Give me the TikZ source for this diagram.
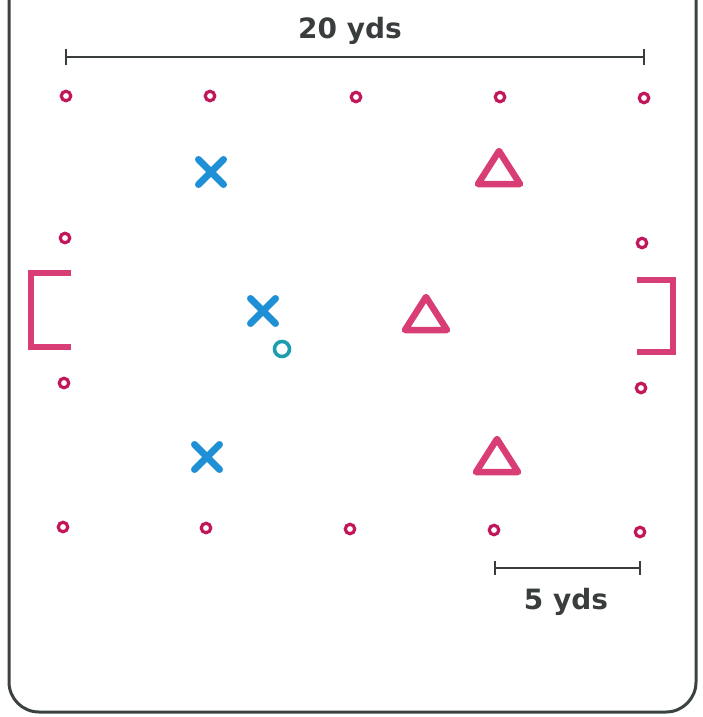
\documentclass[tikz,border=0pt]{standalone}
\usepackage{fontspec}
\setmainfont{DejaVu Sans}
\usetikzlibrary{calc}
\begin{document}
\begin{tikzpicture}[x=1pt,y=-1pt,
  cone/.style={circle,draw=conecol,fill=white,line width=3.2pt,minimum size=9.5pt,inner sep=0pt},
  xmark/.style={line width=7pt,line cap=round,draw=xcol},
  tri/.style={line width=6.5pt,line join=round,draw=tricol},
  goal/.style={line width=6pt,line join=miter,draw=tricol},
  bar/.style={line width=2.2pt,draw=barcol},
  lbl/.style={font=\fontsize{28}{32}\selectfont\bfseries,text=barcol,inner sep=0pt,anchor=base}]
\definecolor{conecol}{HTML}{C2185B}
\definecolor{tricol}{HTML}{D93D76}
\definecolor{xcol}{HTML}{1F8FD6}
\definecolor{ballcol}{HTML}{1E9DB0}
\definecolor{barcol}{HTML}{3A3D3E}
\definecolor{bordcol}{HTML}{3C4242}
\useasboundingbox (0,0) rectangle (702,717);
% border (open at top)
\draw[line width=3pt,draw=bordcol] (9,0) -- (9,682) arc[start angle=180,end angle=90,radius=30] -- (666,712) arc[start angle=90,end angle=0,radius=30] -- (696,0);
% scale bars
\coordinate (tl) at (66,57); \coordinate (tr) at (644,57);
\draw[bar] (tl) -- (tr);
\draw[bar] ($(tl)+(0,-8)$) -- ($(tl)+(0,8)$);
\draw[bar] ($(tr)+(0,-8)$) -- ($(tr)+(0,8)$);
\node[lbl] (t20) at (350,38) {20 yds};
\coordinate (bl) at (495,568); \coordinate (br) at (640,568);
\draw[bar] (bl) -- (br);
\draw[bar] ($(bl)+(0,-7)$) -- ($(bl)+(0,7)$);
\draw[bar] ($(br)+(0,-7)$) -- ($(br)+(0,7)$);
\node[lbl] (t5) at (566,609) {5 yds};
% cones
\node[cone] (c1) at (66,96) {};
\node[cone] (c2) at (210,96) {};
\node[cone] (c3) at (356,97) {};
\node[cone] (c4) at (500,97) {};
\node[cone] (c5) at (644,98) {};
\node[cone] (c6) at (65,238) {};
\node[cone] (c7) at (642,243) {};
\node[cone] (c8) at (64,383) {};
\node[cone] (c9) at (641,388) {};
\node[cone] (c10) at (63,527) {};
\node[cone] (c11) at (206,528) {};
\node[cone] (c12) at (350,529) {};
\node[cone] (c13) at (494,530) {};
\node[cone] (c14) at (640,532) {};
% X marks
\foreach \n/\px/\py in {x1/211/172, x2/263/311, x3/207/457}{
  \coordinate (\n) at (\px,\py);
  \draw[xmark] ($(\n)+(-12.5,-12.5)$) -- ($(\n)+(12.5,12.5)$);
  \draw[xmark] ($(\n)+(-12.5,12.5)$) -- ($(\n)+(12.5,-12.5)$);
}
% ball
\node[circle,draw=ballcol,line width=3.6pt,minimum size=15pt,inner sep=0pt] (ball) at (282,349) {};
% triangles
\draw[tri] (499,151) -- (478,184) -- (520,184) -- cycle;
\draw[tri] (426,297) -- (405,330) -- (447,330) -- cycle;
\draw[tri] (497,439) -- (476,472) -- (518,472) -- cycle;
% goals
\draw[goal] (71,273) -- (31,273) -- (31,347) -- (71,347);
\draw[goal] (637,280) -- (673,280) -- (673,352) -- (637,352);
\end{tikzpicture}
\end{document}
